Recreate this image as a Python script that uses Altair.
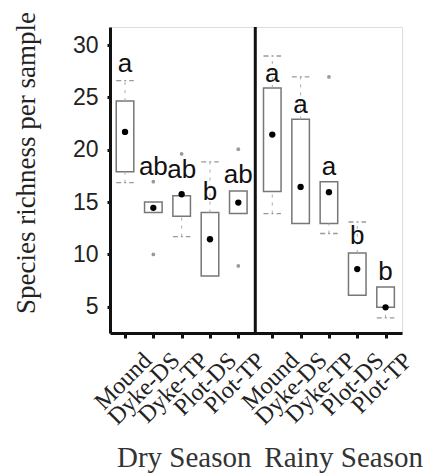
import json
import altair as alt
import pandas as pd

# ---------------- data ----------------
groups = ["Mound", "Dyke-DS", "Dyke-TP", "Plot-DS", "Plot-TP"]
seasons = ["Dry Season", "Rainy Season"]

# order: dry (5 groups) then rainy (5 groups)
q1 = [17.9, 14.0, 13.65, 7.95, 13.9, 16.0, 12.95, 12.95, 6.1, 4.95]
q3 = [24.65, 15.0, 15.6, 14.0, 16.05, 25.9, 22.9, 16.95, 10.15, 6.9]
median = [21.7, 14.45, 15.75, 11.45, 14.95, 21.45, 16.45, 15.95, 8.6, 4.95]
whisker_low = [16.85, None, 11.7, None, None, 13.9, None, 12.0, None, 3.95]
whisker_high = [26.6, None, None, 18.85, None, 28.95, 26.95, None, 13.1, None]
outlier_box = [1, 1, 2, 4, 4, 7]
outlier_value = [16.95, 10.0, 19.6, 20.05, 8.9, 26.95]
letters = ["a", "ab", "ab", "b", "ab", "a", "a", "a", "b", "b"]
letter_y = [27.4, 17.6, 17.3, 15.2, 16.85, 26.5, 23.5, 17.6, 11.0, 7.55]
y_ticks = [5, 10, 15, 20, 25, 30]

# ---------------- layout helpers ----------------
GAP = 0.2      # extra space between the two seasons
HALF = 0.31    # half box width in x units

pos = [i + 1 for i in range(5)] + [i + 6 + GAP for i in range(5)]
names = groups + groups
season_of = [seasons[0]] * 5 + [seasons[1]] * 5

boxes = pd.DataFrame({
    "pos": pos, "xl": [p - HALF for p in pos], "xr": [p + HALF for p in pos],
    "q1": q1, "q3": q3, "median": median, "group": names, "season": season_of,
    "letter": letters, "ly": letter_y,
})

wh_rows, cap_rows = [], []
for i in range(10):
    if whisker_high[i] is not None:
        wh_rows.append({"pos": pos[i], "a": q3[i], "b": whisker_high[i]})
        cap_rows.append({"xl": pos[i] - HALF, "xr": pos[i] + HALF, "y": whisker_high[i]})
    if whisker_low[i] is not None:
        wh_rows.append({"pos": pos[i], "a": whisker_low[i], "b": q1[i]})
        cap_rows.append({"xl": pos[i] - HALF, "xr": pos[i] + HALF, "y": whisker_low[i]})
whiskers = pd.DataFrame(wh_rows)
caps = pd.DataFrame(cap_rows)

outliers = pd.DataFrame({"pos": [pos[i] for i in outlier_box], "v": outlier_value})

season_df = pd.DataFrame({"season": seasons, "pos": [pos[0], pos[5]]})
divider = pd.DataFrame({"pos": [(pos[4] + pos[5]) / 2]})

# ---------------- scales / axes ----------------
xscale = alt.Scale(domain=[0.47, 10.78], nice=False, zero=False)
yscale = alt.Scale(domain=[2.5, 31.72], nice=False, zero=False)

label_expr = (
    f"{json.dumps(names)}[round(datum.value < {(pos[4] + pos[5]) / 2} ? "
    f"datum.value - 1 : datum.value - {1 + GAP})]"
)

xaxis = alt.Axis(
    title=None, values=pos, labelExpr=label_expr, grid=False,
    labelAngle=315, labelAlign="right", labelBaseline="top",
    labelOffset=14, labelPadding=10, labelOverlap=False, labelFlush=False,
    labelBound=False, labelFont="Liberation Serif", labelFontSize=24,
    labelColor="#222", tickSize=5, tickWidth=3, tickColor="#111",
    domainColor="#111", domainWidth=3,
)
yaxis = alt.Axis(
    title="Species richness per sample", values=y_ticks, grid=False,
    titleFont="Liberation Serif", titleFontSize=27, titleFontWeight="normal",
    titleColor="#222", titleAngle=270, titleX=-76, titleY=135.5,
    titleAlign="center", titleBaseline="alphabetic",
    labelFont="Liberation Sans", labelFontSize=23, labelColor="#222",
    labelPadding=9, tickSize=3, tickWidth=3, tickColor="#111",
    domainColor="#111", domainWidth=3,
)

X = alt.X("pos:Q", scale=xscale, axis=xaxis)


def Y(field):
    return alt.Y(field, scale=yscale, axis=yaxis)


box_layer = alt.Chart(boxes).mark_rect(
    fill="white", stroke="#777", strokeWidth=1.5
).encode(
    x=alt.X("xl:Q", scale=xscale, axis=xaxis), x2="xr:Q",
    y=Y("q1:Q"), y2="q3:Q",
)

whisker_layer = alt.Chart(whiskers).mark_rule(
    color="#aaa", strokeWidth=1, strokeDash=[3, 5]
).encode(x=X, y=Y("a:Q"), y2="b:Q")

cap_layer = alt.Chart(caps).mark_rule(
    color="#999", strokeWidth=1.3, strokeDash=[5, 3, 2, 3]
).encode(x=alt.X("xl:Q", scale=xscale, axis=xaxis), x2="xr:Q", y=Y("y:Q"))

median_layer = alt.Chart(boxes).mark_circle(
    color="black", size=40, opacity=1
).encode(x=X, y=Y("median:Q"))

outlier_layer = alt.Chart(outliers).mark_point(
    filled=True, color="#999", size=14, opacity=1, shape="circle"
).encode(x=X, y=Y("v:Q"))

letter_layer = alt.Chart(boxes).mark_text(
    font="Liberation Sans", fontSize=26, baseline="alphabetic",
    align="center", color="#111"
).encode(x=X, y=Y("ly:Q"), text="letter:N")

divider_layer = alt.Chart(divider).mark_rule(
    color="#111", strokeWidth=3
).encode(x=X)

season_layer = alt.Chart(season_df).mark_text(
    font="Liberation Serif", fontSize=29, baseline="alphabetic",
    align="left", color="#333", dx=-8
).encode(x=X, y=alt.value(440), text="season:N")

chart = alt.layer(
    box_layer, whisker_layer, cap_layer, outlier_layer, median_layer,
    letter_layer, divider_layer, season_layer,
).properties(
    width=292, height=306,
    autosize=alt.AutoSizeParams(type="none"),
    padding={"left": 102, "top": 19, "right": 30, "bottom": 140},
).configure_view(stroke=None).configure(background="white")

chart.save("out.html", embed_options={"renderer": "svg", "actions": False})
